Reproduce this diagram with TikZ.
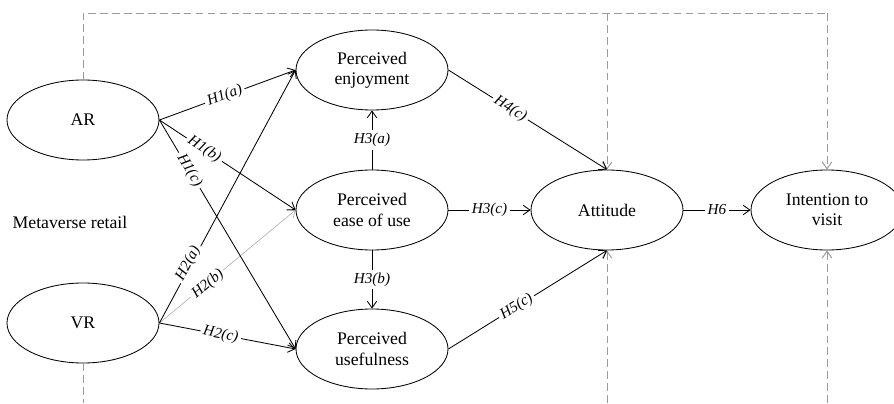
\documentclass[tikz,border=0pt]{standalone}
\usepackage{fontspec}
\setmainfont{Liberation Serif}
\usetikzlibrary{arrows.meta,shapes.geometric}
\definecolor{ctrlgray}{RGB}{155,155,155}
\definecolor{faintline}{RGB}{170,170,170}

\begin{document}
\begin{tikzpicture}[
  construct/.style={ellipse, draw, line width=0.6pt, minimum width=3.8cm, minimum height=2cm,
        inner sep=0pt, align=center, font=\fontsize{12.6}{14.4}\selectfont},
  hypline/.style={line width=0.6pt, -{Straight Barb[length=1.7mm,width=2.4mm]}},
  hyp/.style={fill=white, inner sep=2pt, font=\fontsize{10.8}{12}\selectfont\itshape},
  ctrl/.style={ctrlgray, line width=0.7pt, dash pattern=on 5.5pt off 3pt}]
  \clip (0,0) rectangle (22.35,10.075);
  \node[construct] (ar) at (2.075,7.075) {AR};
  \node[construct] (vr) at (2.075,2.0) {VR};
  \node[construct] (pe) at (9.3,8.325) {Perceived\\enjoyment};
  \node[construct] (peou) at (9.3,4.825) {Perceived\\ease of use};
  \node[construct] (pu) at (9.3,1.35) {Perceived\\usefulness};
  \node[construct] (att) at (15.175,4.825) {Attitude};
  \node[construct] (int) at (20.675,4.825) {Intention to\\visit};
  \node[font=\fontsize{12.6}{14.4}\selectfont] (mr) at (1.75,4.525) {Metaverse retail};
  \coordinate (topl) at (2.075,9.75);
  \coordinate (topa) at (15.175,9.75);
  \coordinate (topi) at (20.675,9.75);
  \coordinate (botv) at (2.075,0);
  \coordinate (bota) at (15.175,0);
  \coordinate (boti) at (20.675,0);
  \draw[ctrl] (ar.north) -- (topl) -- (topi);
  \draw[ctrl, -{Straight Barb[length=1.7mm,width=2.4mm]}] (topi) -- (int.north);
  \draw[ctrl, -{Straight Barb[length=1.7mm,width=2.4mm]}] (topa) -- (att.north);
  \draw[ctrl] (vr.south) -- (botv);
  \draw[ctrl, -{Straight Barb[length=1.7mm,width=2.4mm]}] (bota) -- (att.south);
  \draw[ctrl, -{Straight Barb[length=1.7mm,width=2.4mm]}] (boti) -- (int.south);
  \draw[hypline, faintline, line width=0.4pt] (vr.east) -- node[hyp, sloped, pos=0.35, yshift=-1pt, text=black] {H2(b)} (peou.west);
  \draw[hypline] (vr.east) -- node[hyp, sloped, pos=0.23, yshift=2pt] {H2(a)} (pe.west);
  \draw[hypline] (vr.east) -- node[hyp, sloped, pos=0.45] {H2(c)} (pu.west);
  \draw[hypline] (ar.east) -- node[hyp, sloped, pos=0.48] {H1(a)} (pe.west);
  \draw[hypline] (ar.east) -- node[hyp, sloped, pos=0.33] {H1(b)} (peou.west);
  \draw[hypline] (ar.east) -- node[hyp, sloped, pos=0.22] {H1(c)} (pu.west);
  \draw[hypline] (peou.north) -- node[hyp] {H3(a)} (pe.south);
  \draw[hypline] (peou.south) -- node[hyp] {H3(b)} (pu.north);
  \draw[hypline] (peou.east) -- node[hyp] {H3(c)} (att.west);
  \draw[hypline] (pe.east) -- node[hyp, sloped, pos=0.39] {H4(c)} (att.north);
  \draw[hypline] (pu.east) -- node[hyp, sloped, pos=0.43] {H5(c)} (att.south);
  \draw[hypline] (att.east) -- node[hyp] {H6} (int.west);
\end{tikzpicture}
\end{document}
